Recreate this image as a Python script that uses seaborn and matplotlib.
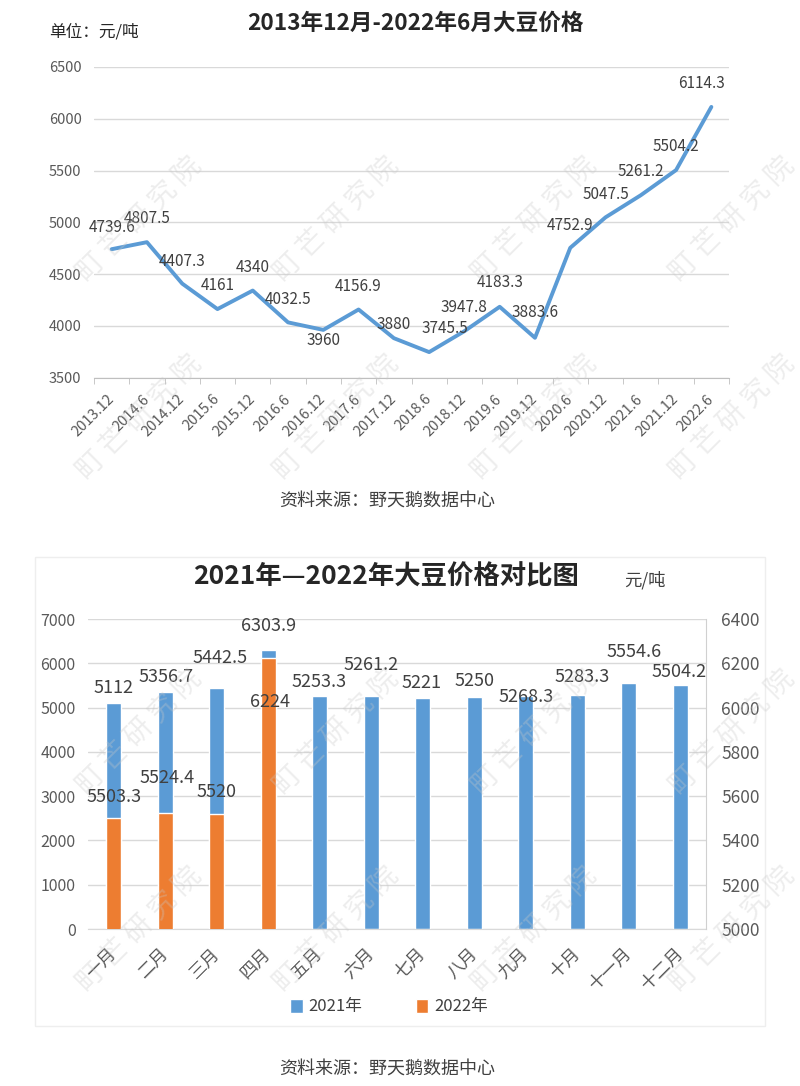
import numpy as np
import pandas as pd
import matplotlib
matplotlib.use("Agg")
import matplotlib.pyplot as plt
from matplotlib.patches import Patch, Rectangle
import seaborn as sns

# ---------------- data ----------------
periods = ["2013.12", "2014.6", "2014.12", "2015.6", "2015.12", "2016.6",
           "2016.12", "2017.6", "2017.12", "2018.6", "2018.12", "2019.6",
           "2019.12", "2020.6", "2020.12", "2021.6", "2021.12", "2022.6"]
prices = [4739.6, 4807.5, 4407.3, 4161, 4340, 4032.5, 3960, 4156.9, 3880,
          3745.5, 3947.8, 4183.3, 3883.6, 4752.9, 5047.5, 5261.2, 5504.2, 6114.3]

months = ["一月", "二月", "三月", "四月", "五月", "六月",
          "七月", "八月", "九月", "十月", "十一月", "十二月"]
p2021 = [5112, 5356.7, 5442.5, 6303.9, 5253.3, 5261.2, 5221, 5250,
         5268.3, 5283.3, 5554.6, 5504.2]
p2022 = [5503.3, 5524.4, 5520, 6224]

top_yticks = [3500, 4000, 4500, 5000, 5500, 6000, 6500]
left_yticks = [0, 1000, 2000, 3000, 4000, 5000, 6000, 7000]
right_yticks = [5000, 5200, 5400, 5600, 5800, 6000, 6200, 6400]

# label offsets (pixels: dx, dy-up) -- styling only
top_off = [(0, 22), (0, 24), (0, 22), (0, 24), (0, 23), (0, 23), (0, -11), (0, 23), (0, 14),
           (16, 24), (0, 24), (0, 24), (0, 25), (0, 22), (0, 23), (0, 24), (0, 24), (-10, 23)]
off21 = [(0, 15), (1, 15), (3, 30), (0, 24), (-1, 14), (0, 31), (-1, 15), (0, 16),
         (0, -1), (5, 18), (5, 31), (-1, 13)]
off22 = [(0, 21), (2, 35), (0, 22), (2, -44)]

BLUE = "#5B9BD5"
ORANGE = "#ED7D31"
GRID = "#D9D9D9"
TXT = "#404040"
TICK = "#595959"

sns.set_style("white")
plt.rcParams["font.family"] = ["Noto Sans CJK SC", "DejaVu Sans"]
plt.rcParams["axes.unicode_minus"] = False

W, H = 800, 1086
fig = plt.figure(figsize=(8, 10.86), dpi=100)


def fx(px):
    return px / W


def fy(py):
    return 1 - py / H


def fmt(v):
    return f"{v:g}"


PX = 0.72  # px -> points at 100 dpi

# ---------------- top chart ----------------
ax1 = fig.add_axes([fx(94), fy(377.5), fx(729) - fx(94), fy(67) - fy(377.5)])
df1 = pd.DataFrame({"period": periods, "price": prices})
sns.lineplot(data=df1, x="period", y="price", ax=ax1, color=BLUE,
             linewidth=2.8, sort=False)
ax1.set_xlim(-0.5, len(periods) - 0.5)
ax1.set_ylim(top_yticks[0], top_yticks[-1])
ax1.set_yticks(top_yticks)
ax1.set_yticklabels([str(t) for t in top_yticks])
ax1.set_xlabel("")
ax1.set_ylabel("")
ax1.grid(axis="y", color=GRID, linewidth=1)
ax1.set_axisbelow(True)
for s in ["top", "right", "left"]:
    ax1.spines[s].set_visible(False)
ax1.spines["bottom"].set_color("#BFBFBF")
ax1.set_xticks(range(len(periods)))
ax1.set_xticks(np.arange(-0.5, len(periods), 1.0), minor=True)
ax1.set_xticklabels(periods)
ax1.tick_params(axis="x", which="major", length=0, pad=14, labelsize=10.5, labelcolor=TICK)
ax1.tick_params(axis="x", which="minor", length=4, color="#BFBFBF", direction="out", bottom=True)
ax1.tick_params(axis="y", length=0, pad=9, labelsize=10.5, labelcolor=TICK)
for lab in ax1.get_xticklabels():
    lab.set_rotation(45)
    lab.set_ha("right")
    lab.set_va("center")
    lab.set_rotation_mode("anchor")
for i, v in enumerate(prices):
    dx, dy = top_off[i]
    ax1.annotate(fmt(v), (i, v), xytext=(dx * PX, dy * PX), textcoords="offset points",
                 ha="center", va="center", fontsize=11, color=TXT)

fig.text(fx(415), fy(23), "2013年12月-2022年6月大豆价格", ha="center", va="center",
         fontsize=16.3, fontweight="bold", color="#262626")
fig.text(fx(49), fy(32), "单位：元/吨", ha="left", va="center", fontsize=12, color="#262626")
fig.text(fx(387), fy(502), "资料来源：野天鹅数据中心", ha="center", va="center",
         fontsize=13, color=TXT)

# ---------------- bottom chart ----------------
fig.patches.append(Rectangle((fx(35), fy(1026)), fx(765) - fx(35), fy(557) - fy(1026),
                             transform=fig.transFigure, fill=False,
                             edgecolor="#EEEEEE", linewidth=1, zorder=0))

ax2 = fig.add_axes([fx(88), fy(929), fx(706) - fx(88), fy(619) - fy(929)])
df21 = pd.DataFrame({"month": months, "price": p2021})
sns.barplot(data=df21, x="month", y="price", order=months, ax=ax2, color=BLUE,
            width=0.3, saturation=1)
ax2.set_ylim(left_yticks[0], left_yticks[-1])
ax2.set_yticks(left_yticks)
ax2.set_yticklabels([str(t) for t in left_yticks])
ax2.grid(axis="y", color=GRID, linewidth=1)
ax2.set_axisbelow(True)
for s in ["top", "right", "left"]:
    ax2.spines[s].set_visible(False)
ax2.spines["bottom"].set_color(GRID)

ax3 = ax2.twinx()
df22 = pd.DataFrame({"month": months[:len(p2022)], "price": p2022})
sns.barplot(data=df22, x="month", y="price", order=months, ax=ax3, color=ORANGE,
            width=0.3, saturation=1)
ax3.set_ylim(right_yticks[0], right_yticks[-1])
ax3.set_yticks(right_yticks)
ax3.set_yticklabels([str(t) for t in right_yticks])
for s in ["top", "left", "bottom"]:
    ax3.spines[s].set_visible(False)
ax3.spines["right"].set_visible(True)
ax3.spines["right"].set_color("#D0D0D0")
ax3.tick_params(axis="y", length=0, pad=11, labelsize=12.5, labelcolor=TICK)
ax3.set_ylabel("")
ax3.set_xlabel("")

ax2.set_xlim(-0.5, len(months) - 0.5)
ax2.set_xticks(range(len(months)))
ax2.set_xticklabels(months)
ax2.set_xlabel("")
ax2.set_ylabel("")
ax2.tick_params(axis="x", length=0, pad=16, labelsize=12.5, labelcolor=TICK)
ax2.tick_params(axis="y", length=0, pad=9, labelsize=11.5, labelcolor=TICK)
for lab in ax2.get_xticklabels():
    lab.set_rotation(45)
    lab.set_ha("right")
    lab.set_va("center")
    lab.set_rotation_mode("anchor")

for i, v in enumerate(p2021):
    dx, dy = off21[i]
    ax2.annotate(fmt(v), (i, v), xytext=(dx * PX, dy * PX), textcoords="offset points",
                 ha="center", va="center", fontsize=13, color=TXT, annotation_clip=False)
for i, v in enumerate(p2022):
    dx, dy = off22[i]
    ax3.annotate(fmt(v), (i, v), xytext=(dx * PX, dy * PX), textcoords="offset points",
                 ha="center", va="center", fontsize=13, color=TXT, annotation_clip=False)

fig.text(fx(386), fy(577), "2021年—2022年大豆价格对比图", ha="center", va="center",
         fontsize=19, fontweight="bold", color="#262626")
fig.text(fx(645), fy(580), "元/吨", ha="center", va="center", fontsize=12.5, color=TXT)

fig.legend(handles=[Patch(facecolor=BLUE), Patch(facecolor=ORANGE)],
           labels=["2021年", "2022年"], loc="center",
           bbox_to_anchor=(fx(389), fy(1007)), ncol=2, frameon=False,
           handlelength=0.75, handleheight=0.9, handletextpad=0.35,
           columnspacing=3.2, fontsize=12, labelcolor=TXT)

fig.text(fx(387), fy(1070), "资料来源：野天鹅数据中心", ha="center", va="center",
         fontsize=13, color=TXT)

# ---------------- watermarks (fully visible instances) ----------------
wm = "町 芒 研 究 院"
cols = [140, 337, 535, 733]
for ry in [220, 418, 733, 930]:
    for cx in cols:
        fig.text(fx(cx), fy(ry), wm, rotation=45, ha="center", va="center",
                 rotation_mode="anchor", fontsize=20, color="#C8C8C8",
                 alpha=0.32, zorder=5)

fig.savefig("out.png", dpi=100, facecolor="white")
